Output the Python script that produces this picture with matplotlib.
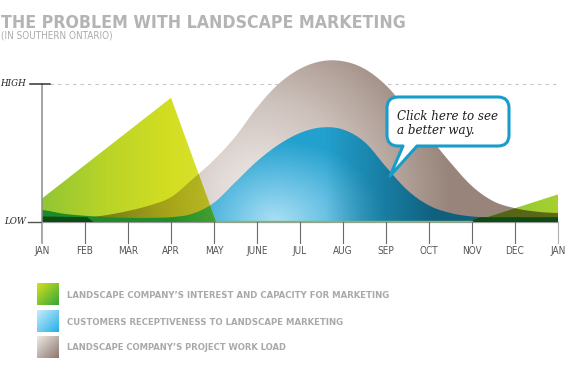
import numpy as np
import matplotlib
matplotlib.use("Agg")
import matplotlib.pyplot as plt
import matplotlib.font_manager as fm
import matplotlib.transforms as mtransforms
from matplotlib.patches import Polygon, PathPatch
from matplotlib.path import Path

# ---------------- data ----------------
months = ["JAN", "FEB", "MAR", "APR", "MAY", "JUNE", "JUL", "AUG", "SEP",
          "OCT", "NOV", "DEC", "JAN"]
sample_month = np.arange(0, 12.5, 0.5)
workload = [0.00, 0.01, 0.03, 0.05, 0.08, 0.12, 0.18, 0.31, 0.45, 0.62, 0.83,
            1.00, 1.11, 1.165, 1.165, 1.11, 0.99, 0.81, 0.62, 0.43, 0.26, 0.15,
            0.10, 0.075, 0.065]
receptive = [0.087, 0.06, 0.045, 0.035, 0.03, 0.03, 0.035, 0.06, 0.14, 0.29,
             0.44, 0.56, 0.645, 0.685, 0.67, 0.58, 0.40, 0.23, 0.12, 0.065,
             0.04, 0.033, 0.03, 0.03, 0.03]
interest_month = [0, 3, 4.05, 10, 12]
interest = [0.17, 0.90, 0.0, 0.0, 0.20]
base_month = [0, 1.05, 1.2, 9.9, 10.2, 12]
base_band = [0.04, 0.035, 0.0, 0.0, 0.035, 0.035]
legend_labels = ["LANDSCAPE COMPANY\u2019S INTEREST AND CAPACITY FOR MARKETING",
                 "CUSTOMERS RECEPTIVENESS TO LANDSCAPE MARKETING",
                 "LANDSCAPE COMPANY\u2019S PROJECT WORK LOAD"]

# ---------------- fonts ----------------
entries = fm.fontManager.ttflist
names = {f.name for f in entries}
if "Liberation Sans Narrow" in names:
    COND = dict(family="Liberation Sans Narrow")
elif any(f.name == "DejaVu Sans" and "condensed" in str(f.stretch) for f in entries):
    COND = dict(family="DejaVu Sans", fontstretch="condensed")
else:
    COND = dict(family="Roboto")
SERIF_I = dict(family="DejaVu Serif", style="italic")

plt.rcParams["lines.scale_dashes"] = False

W, H = 570, 369
fig = plt.figure(figsize=(W / 100, H / 100), dpi=100)
fig.patch.set_facecolor("white")
ax = fig.add_axes([0, 0, 1, 1])
ax.set_axis_off()
X0, DX, Y0, DY = 42, 43.0, 222, 138.0
ax.set_xlim(-X0 / DX, (W - X0) / DX)
ax.set_ylim(-(H - Y0) / DY, Y0 / DY)
ax.set_autoscale_on(False)
pxt = mtransforms.Affine2D().scale(1 / W, -1 / H).translate(0, 1) + fig.transFigure


def smooth(xk, yk, xd):
    """Catmull-Rom curve through the sampled values (for drawing only)."""
    xk = np.asarray(xk, float)
    yk = np.asarray(yk, float)
    h = xk[1] - xk[0]
    idx = np.clip(((xd - xk[0]) // h).astype(int), 0, len(xk) - 2)
    t = (xd - xk[idx]) / h
    p = np.concatenate([[yk[0]], yk, [yk[-1]]])
    p0, p1, p2, p3 = p[idx], p[idx + 1], p[idx + 2], p[idx + 3]
    v = 0.5 * (2 * p1 + (-p0 + p2) * t + (2 * p0 - 5 * p1 + 4 * p2 - p3) * t ** 2
               + (-p0 + 3 * p1 - 3 * p2 + p3) * t ** 3)
    return np.clip(v, 0, None)


xd = np.linspace(0, 12, 1201)
brown_y = smooth(sample_month, workload, xd)
blue_y = smooth(sample_month, receptive, xd)
green_y = np.interp(xd, interest_month, interest)
dark_y = np.interp(xd, base_month, base_band)


def region(yv):
    pts = np.column_stack([np.concatenate([[xd[0]], xd, [xd[-1]]]),
                           np.concatenate([[0], yv, [0]])])
    return Polygon(pts, closed=True, transform=ax.transData,
                   facecolor="none", edgecolor="none")


# gradient grid
nx, ny = 600, 260
gx = np.linspace(0, 12, nx)
gy = np.linspace(0, 1.3, ny)
XX, YY = np.meshgrid(gx, gy)


def ramp(t, pos, cols):
    cols = np.asarray(cols, float)
    return np.stack([np.interp(t, pos, cols[:, i]) for i in range(3)], axis=-1)


d_b = np.sqrt(((XX - 5.0) / 4.5) ** 2 + ((YY - 0.2) / 1.4) ** 2)
brown_img = ramp(d_b, [0, 0.5, 1.0], [(240, 236, 234), (205, 193, 187), (152, 132, 122)])

sx = np.where(XX < 5.4, 2.2, 2.6)
d_u = np.sqrt(((XX - 5.4) / sx) ** 2 + (YY / 0.6) ** 2)
blue_img = ramp(d_u, [0, 0.45, 1.0], [(172, 224, 245), (110, 196, 230), (34, 160, 206)])
tdark = np.clip((XX - 6.6) / 2.6, 0, 1)[..., None] * 0.9
blue_img = blue_img * (1 - tdark) + np.array([14, 88, 116]) * tdark

g_left = ramp(XX, [0, 1.5, 3.0, 4.1], [(146, 198, 52), (186, 212, 40), (212, 222, 34), (218, 226, 50)])
g_right = ramp(XX, [9.9, 12], [(134, 196, 62), (166, 208, 46)])
green_img = np.where((XX > 7)[..., None], g_right, g_left)

olive_img = green_img * brown_img / 255.0 * 0.97
band_img = ramp(XX, [0, 3.0, 4.1], [(28, 138, 44), (34, 142, 42), (70, 162, 50)])


def grad(img, yv, z):
    im = ax.imshow(np.clip(img, 0, 255).astype(np.uint8), extent=(0, 12, 0, 1.3),
                   origin="lower", aspect="auto", interpolation="bilinear", zorder=z)
    im.set_clip_path(region(yv))
    return im


# reference lines behind
ax.plot([(50 - X0) / DX, 12], [1, 1], color="#c4c4c4", lw=0.75,
        dashes=(2.4, 3.0), zorder=0.5)
ax.plot([0, 12], [0, 0], color="#9a9a9a", lw=0.9, zorder=0.5)

grad(brown_img, brown_y, 1)
grad(blue_img, blue_y, 2)
grad(green_img, green_y, 3)
grad(olive_img, np.minimum(green_y, brown_y), 4)
grad(band_img, np.minimum(green_y, blue_y), 5)
ax.fill_between(xd, 0, dark_y, where=dark_y > 0, color="#0b4c14", lw=0, zorder=6)
ax.plot([4.05, 10], [0.004, 0.004], color="#7cbf52", lw=1.0, zorder=6)

# axes
ax.plot([0, 0], [1, -21 / DY], color="#8c8c8c", lw=1.1, zorder=10)
ax.plot([(30 - X0) / DX, (50 - X0) / DX], [1, 1], color="#333333", lw=1.1, zorder=10)
ax.plot([(28 - X0) / DX, 0], [0, 0], color="#555555", lw=1.0, zorder=10)
for i, m in enumerate(months):
    c = "#b0b0b0" if i in (0, len(months) - 1) else "#6a6a6a"
    ax.plot([i, i], [0, -21 / DY], color=c, lw=0.8, zorder=10)
    ax.text(i, -(251 - Y0) / DY, m, ha="center", va="center", fontsize=7.2,
            color="#555555", **COND)

ax.text((26 - X0) / DX, 1, "HIGH", ha="right", va="center", fontsize=6.3,
        color="#222222", **SERIF_I)
ax.text((26 - X0) / DX, 0, "LOW", ha="right", va="center", fontsize=6.3,
        color="#222222", **SERIF_I)

renderer = fig.canvas.get_renderer()


def fit_text(x, y, s, width_px, size0, **kw):
    t = fig.text(x / W, 1 - y / H, s, fontsize=size0, **kw)
    w = t.get_window_extent(renderer).width
    t.set_fontsize(size0 * width_px / w)
    return t


fit_text(1, 27.6, "THE PROBLEM WITH LANDSCAPE MARKETING", 404, 15, va="baseline",
         ha="left", color="#b4b4b4", weight="bold", **COND)
fit_text(1, 38.4, "(IN SOUTHERN ONTARIO)", 112, 7, va="baseline", ha="left",
         color="#ababab", **COND)

# speech bubble
L, R, T, B, r = 387, 509, 97, 146, 11
verts = [(L + r, T), (R - r, T), (R, T), (R, T + r), (R, B - r), (R, B), (R - r, B),
         (417, B), (390, 176), (403, B), (L + r, B), (L, B), (L, B - r), (L, T + r),
         (L, T), (L + r, T), (L + r, T)]
codes = [Path.MOVETO, Path.LINETO, Path.CURVE3, Path.CURVE3, Path.LINETO, Path.CURVE3,
         Path.CURVE3, Path.LINETO, Path.LINETO, Path.LINETO, Path.LINETO, Path.CURVE3,
         Path.CURVE3, Path.LINETO, Path.CURVE3, Path.CURVE3, Path.CLOSEPOLY]
bubble = PathPatch(Path(verts, codes), transform=pxt, facecolor="white",
                   edgecolor="#189dca", lw=2.2, zorder=20, joinstyle="round")
fig.add_artist(bubble)
t1 = fit_text(397, 119.5, "Click here to see", 101, 10, va="baseline", ha="left",
              color="#1e1e1e", zorder=21, **SERIF_I)
fig.text(397 / W, 1 - 134.2 / H, "a better way.", fontsize=t1.get_fontsize(),
         va="baseline", ha="left", color="#1e1e1e", zorder=21, **SERIF_I)

# legend
sw_cols = [((214, 224, 30), (52, 168, 60)),
           ((200, 236, 250), (36, 176, 232)),
           ((238, 234, 232), (140, 120, 108))]
sw_top = [283, 310, 336]
txt_y = [295, 322.5, 347]
widths = [321, 275, 220]
u = np.linspace(0, 1, 40)
UU, VV = np.meshgrid(u, u)
tt = (UU + VV) / 2
for (c0, c1), top, ty, lab, wpx in zip(sw_cols, sw_top, txt_y, legend_labels, widths):
    sax = fig.add_axes([37 / W, 1 - (top + 22) / H, 22 / W, 22 / H])
    sax.set_axis_off()
    img = ramp(tt, [0, 1], [c0, c1]).astype(np.uint8)
    sax.imshow(img, aspect="auto", interpolation="bilinear")
    fit_text(67, ty, lab, wpx, 8, va="center", ha="left", color="#a9a9a9",
             weight="bold", **COND)

fig.savefig("out.png", dpi=100, facecolor="white")
